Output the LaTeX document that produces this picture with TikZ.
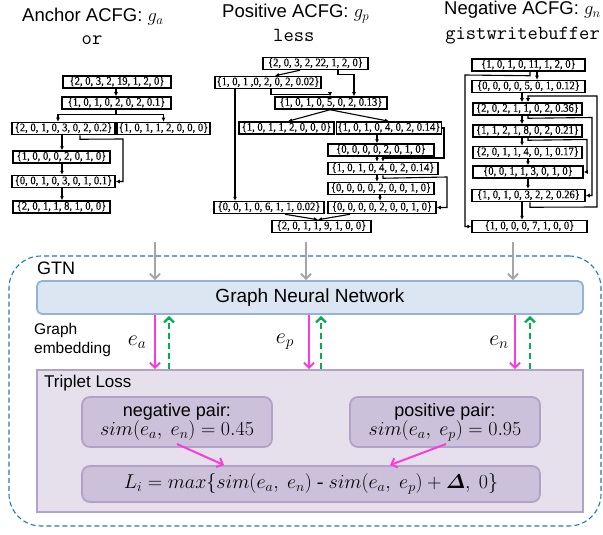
\RequirePackage{fix-cm}
\documentclass[tikz,border=0pt]{standalone}
\usepackage{amsmath}
\usepackage[no-math]{fontspec}
\setmainfont{Liberation Serif}
\setsansfont{Liberation Sans}
\newfontfamily\boxfont[FakeStretch=0.92,FakeBold=0.4]{Liberation Serif}
\usetikzlibrary{arrows.meta}
\definecolor{grayc}{RGB}{166,166,166}
\definecolor{magc}{RGB}{250,60,220}
\definecolor{greenc}{RGB}{0,176,80}
\definecolor{gtnc}{RGB}{30,120,200}
\definecolor{gnnfill}{RGB}{220,230,242}
\definecolor{gnnline}{RGB}{149,179,215}
\definecolor{tlfill}{RGB}{230,224,236}
\definecolor{tlline}{RGB}{179,162,199}
\definecolor{pairfill}{RGB}{204,193,218}
\tikzset{
  bx/.style={draw, line width=1.5pt, inner xsep=1pt, inner ysep=0pt, minimum height=12pt,
    text height=8pt, text depth=2.6pt, font=\boxfont\fontsize{11.5}{12}\selectfont},
  ar/.style={-{Latex[length=4pt,width=4pt]}, line width=1.1pt},
  ttl/.style={font=\sffamily\fontsize{18.5}{20}\selectfont, inner sep=0pt},
  fn/.style={font=\ttfamily\fontsize{20}{22}\selectfont, inner sep=0pt},
  gar/.style={draw=grayc, line width=2pt, -{Straight Barb[length=5pt,width=10pt]}},
  mar/.style={draw=magc, line width=2pt, -{Straight Barb[length=5pt,width=10pt]}},
  gdash/.style={draw=greenc, line width=2.2pt, dash pattern=on 6pt off 4pt, -{Straight Barb[length=5pt,width=10pt]}},
  sfl/.style={font=\sffamily\fontsize{18}{20}\selectfont},
  mth/.style={font=\fontsize{22}{24}\selectfont, inner sep=0pt},
  pairbox/.style={draw=tlline, fill=pairfill, line width=1.8pt, rounded corners=8pt, align=center, inner sep=0pt},
}
\begin{document}
\begin{tikzpicture}[x=1pt,y=-1pt]
\useasboundingbox (0,0) rectangle (603,535);

% titles
\node[ttl, anchor=base west] (tA) at (22,22) {Anchor ACFG: $g_a$};
\node[fn, anchor=base] (fA) at (92,45) {or};
\node[ttl, anchor=base west] (tP) at (222,18) {Positive ACFG: $g_p$};
\node[fn, anchor=base west] (fP) at (273,42) {less};
\node[ttl, anchor=base east] (tN) at (601,15) {Negative ACFG: $g_n$};
\node[fn, anchor=base east] (fN) at (600,40) {gistwritebuffer};

% anchor graph
\node[bx, minimum width=108pt] (A1) at (117,82) {\{2, 0, 3, 2, 19, 1, 2, 0\}};
\node[bx, minimum width=109pt] (A2) at (116.5,103) {\{1, 0, 1, 0, 2, 0, 2, 0.1\}};
\node[bx, minimum width=103pt] (A3) at (63.5,128.5) {\{2, 0, 1, 0, 3, 0, 2, 0.2\}};
\node[bx, minimum width=93pt] (A4) at (163.5,128.5) {\{1, 0, 1, 1, 2, 0, 0, 0\}};
\node[bx, minimum width=97pt] (A5) at (61.5,157) {\{1, 0, 0, 0, 2, 0, 1, 0\}};
\node[bx, minimum width=103pt] (A6) at (63.5,181.5) {\{0, 0, 1, 0, 3, 0, 1, 0.1\}};
\node[bx, minimum width=97pt] (A7) at (61.5,207) {\{2, 0, 1, 1, 8, 1, 0, 0\}};
\coordinate (xa1) at (116,0);
\coordinate (xa2) at (58,0);
\coordinate (xa3) at (62,0);
\coordinate (xa4) at (80,0);
\draw[ar] (A1.south -| xa1) -- (A2.north -| xa1);
\draw[ar] (A2.south -| xa1) -- ++(0,5) -| (A3.north -| xa2);
\draw[ar] (A2.south -| xa1) -- ++(0,5) -| (A4.north);
\draw[ar] (A3.south -| xa3) -- (A5.north -| xa3);
\draw[ar] (A3.south -| xa4) -- ++(0,4) -- (123,139) |- (A6.east);
\draw[ar] (A5.south -| xa3) -- (A6.north -| xa3);
\draw[ar] (A6.south -| xa3) -- (A7.north -| xa3);

% positive graph
\node[bx, minimum width=105pt] (P1) at (315.5,63.5) {\{2, 0, 3, 2, 22, 1, 2, 0\}};
\node[bx, minimum width=106pt] (P2) at (268,82.5) {\{1, 0, 1 ,0, 2, 0, 2, 0.02\}};
\node[bx, minimum width=112pt] (P3) at (331,103) {\{1, 0, 1, 0, 5, 0, 2, 0.13\}};
\node[bx, minimum width=95pt] (P4) at (286.5,128) {\{1, 0, 1, 1, 2, 0, 0, 0\}};
\node[bx, minimum width=104pt] (P5) at (389,128) {\{1, 0, 1, 0, 4, 0, 2, 0.14\}};
\node[bx, minimum width=106pt] (P6) at (381,150) {\{0, 0, 0, 0, 2, 0, 1, 0\}};
\node[bx, minimum width=110pt] (P7) at (383,168.5) {\{1, 0, 1, 0, 4, 0, 2, 0.14\}};
\node[bx, minimum width=106pt] (P8) at (381,188.5) {\{0, 0, 0, 0, 2, 0, 0, 1, 0\}};
\node[bx, minimum width=110pt] (P9) at (269,207.5) {\{0, 0, 1, 0, 6, 1, 1, 0.02\}};
\node[bx, minimum width=108pt] (P10) at (382,207.5) {\{0, 0, 0, 0, 2, 0, 0, 1, 0\}};
\node[bx, minimum width=99pt] (P11) at (321.5,226.5) {\{2, 0, 1, 1, 9, 1, 0, 0\}};
\coordinate (xp1) at (300,0);
\coordinate (xp2) at (275,0);
\coordinate (xp3) at (338,0);
\coordinate (xp4) at (354,0);
\coordinate (xp5) at (271,0);
\coordinate (xp6) at (330,0);
\coordinate (xp7) at (235,0);
\coordinate (xp8) at (288,0);
\coordinate (xp9) at (377,0);
\coordinate (xp10) at (383,0);
\coordinate (xp11) at (380,0);
\coordinate (xp12) at (285,0);
\coordinate (xp13) at (350,0);
\coordinate (xp14) at (318,0);
\draw[ar] (P1.south -| xp1) -- (P2.north -| xp2);
\draw[ar] (P1.south -| xp3) -- ++(0,4) -| (P3.north -| xp4);
\draw[ar] (P2.south -| xp5) -- ++(0,5) -| (P3.north -| xp6);
\draw[ar] (P2.south -| xp7) -- (P9.north -| xp7);
\draw[ar] (P3.south -| xp6) -- (P4.north -| xp8);
\draw[ar] (P3.south -| xp6) -- (P5.north);
\draw[ar] (P5.south -| xp9) -- (P6.north -| xp9);
\draw[ar] (P5.east) -- (444,128) -- (444,158) -| (P7.north -| xp10);
\draw[ar] (P6.south -| xp9) -- (P7.north -| xp9);
\draw[ar] (P7.south -| xp9) -- (P8.north -| xp9);
\draw[ar] (P7.south -| xp10) -- ++(0,3) -- (447,177) |- (P10.east);
\draw[ar] (P8.south -| xp11) -- (P10.north -| xp11);
\draw[ar] (P9.south -| xp12) -- (P11.north -| xp14);
\draw[ar] (P10.south -| xp13) -- (P11.north -| xp14);

% negative graph
\node[bx, minimum width=113pt] (N1) at (528.5,65) {\{1, 0, 1, 0, 11, 1, 2, 0\}};
\node[bx, minimum width=113pt] (N2) at (528.5,86.5) {\{0, 0, 0, 0, 5, 0, 1, 0.12\}};
\node[bx, minimum width=109pt] (N3) at (527.5,109) {\{2, 0, 2, 1, 1, 0, 2, 0.36\}};
\node[bx, minimum width=109pt] (N4) at (527.5,131) {\{1, 1, 2, 1, 8, 0, 2, 0.21\}};
\node[bx, minimum width=109pt] (N5) at (527.5,152.5) {\{2, 0, 1, 1, 4, 0, 1, 0.17\}};
\node[bx, minimum width=110pt] (N6) at (528,172) {\{0, 0, 1, 1, 3, 0, 1, 0\}};
\node[bx, minimum width=113pt] (N7) at (528.5,195.5) {\{1, 0, 1, 0, 3, 2, 2, 0.26\}};
\node[bx, minimum width=115pt] (N8) at (529.5,226.5) {\{1, 0, 0, 0, 7, 1, 0, 0\}};
\coordinate (xn1) at (537,0);
\coordinate (xn2) at (530,0);
\coordinate (xn3) at (522,0);
\coordinate (xn4) at (528,0);
\draw[ar] (N1.south -| xn1) -- (N2.north -| xn1);
\draw[ar] (N1.south -| xn2) -- ++(0,4) -- (465,75) |- (N8.west);
\draw[ar] (N2.south -| xn3) -- (N3.north -| xn3);
\draw[ar] (N7.south -| xn2) -- ++(0,5) -- (597,207) -- (597,96) -| (N3.north -| xn4);
\draw[ar] (N3.south -| xn3) -- (N4.north -| xn3);
\draw[ar] (N3.south -| xn4) -- ++(0,2.5) -- (592,117.5) |- (N7.east);
\draw[ar] (N4.south -| xn4) -- ++(0,2.5) -- (587,139.5) |- (N6.east);
\draw[ar] (N4.south -| xn3) -- (N5.north -| xn3);
\draw[ar] (N5.south -| xn4) -- (N6.north -| xn4);
\draw[ar] (N6.south -| xn4) -- (N7.north -| xn4);
\draw[ar] (N7.south -| xn3) -- (N8.north -| xn3);

% GTN container
\node[draw=gtnc, line width=1.1pt, dash pattern=on 5pt off 3pt, rounded corners=32pt,
  minimum width=592pt, minimum height=270pt, inner sep=0pt] (GTN) at (305,391) {};
\node[sfl, anchor=west, inner sep=0pt] (GTNl) at (37,268) {GTN};

% GNN
\node[draw=gnnline, fill=gnnfill, line width=1.8pt, rounded corners=5pt,
  minimum width=546pt, minimum height=33pt, inner sep=0pt,
  font=\sffamily\fontsize{19}{21}\selectfont] (GNN) at (310,297.5) {Graph Neural Network};

% Triplet loss
\node[draw=tlline, fill=tlfill, line width=1.8pt, minimum width=546pt, minimum height=142pt,
  inner sep=0pt] (TL) at (310,441) {};
\node[anchor=west, inner sep=0pt, font=\sffamily\fontsize{17}{19}\selectfont] (TLl) at (44,383) {Triplet Loss};
\node[pairbox, minimum width=190pt, minimum height=50pt] (NP) at (177,422)
  {{\sffamily\fontsize{18}{21}\selectfont negative pair:}\\[-1pt]{\fontsize{20}{21}\selectfont $sim(e_a,\ e_n) = 0.45$}};
\node[pairbox, minimum width=190pt, minimum height=50pt] (PP) at (445,422)
  {{\sffamily\fontsize{18}{21}\selectfont positive pair:}\\[-1pt]{\fontsize{20}{21}\selectfont $sim(e_a,\ e_p) = 0.95$}};
\node[pairbox, minimum width=458pt, minimum height=36pt, font=\fontsize{20}{22}\selectfont] (LB) at (311,484)
  {$L_i = max\{sim(e_a,\ e_n)\text{ - }sim(e_a,\ e_p) + \boldsymbol{\varDelta},\ 0\}$};

% gray input arrows
\coordinate (ga) at (155,242);
\coordinate (gp) at (306,242);
\coordinate (gn) at (513,242);
\draw[gar] (ga) -- (ga |- GNN.north);
\draw[gar] (gp) -- (gp |- GNN.north);
\draw[gar] (gn) -- (gn |- GNN.north);

% embeddings
\coordinate (ma) at (155,0);
\coordinate (mp) at (309,0);
\coordinate (mn) at (515,0);
\coordinate (da) at (169,0);
\coordinate (dp) at (321,0);
\coordinate (dn) at (530,0);
\draw[mar] (GNN.south -| ma) -- (TL.north -| ma);
\draw[mar] (GNN.south -| mp) -- (TL.north -| mp);
\draw[mar] (GNN.south -| mn) -- (TL.north -| mn);
\draw[gdash] (TL.north -| da) -- ([yshift=-1pt]GNN.south -| da);
\draw[gdash] (TL.north -| dp) -- ([yshift=-1pt]GNN.south -| dp);
\draw[gdash] (TL.north -| dn) -- ([yshift=-1pt]GNN.south -| dn);
\node[mth] (ea) at (137,342) {$e_a$};
\node[mth] (ep) at (285,342) {$e_p$};
\node[mth] (en) at (499,342) {$e_n$};
\node[anchor=west, align=left, inner sep=0pt, font=\sffamily\fontsize{15.5}{19}\selectfont] (GE) at (34,340) {Graph\\embedding};

% pair arrows
\coordinate (na) at (177,444);
\coordinate (pa) at (446,444);
\coordinate (la) at (224,0);
\coordinate (lb) at (390,0);
\draw[mar] (na) -- (LB.north -| la);
\draw[mar] (pa) -- (LB.north -| lb);
\end{tikzpicture}
\end{document}
